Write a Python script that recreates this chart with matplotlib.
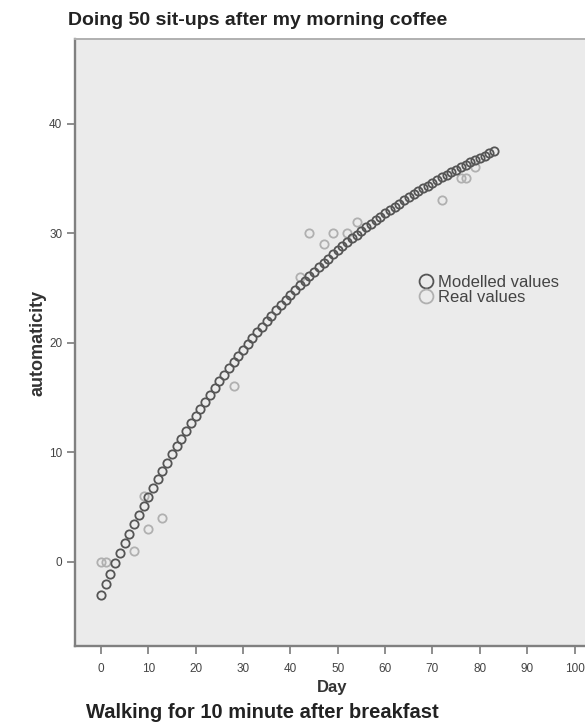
import numpy as np
import matplotlib.pyplot as plt
from matplotlib.lines import Line2D

plt.rcParams['font.family'] = ['Liberation Sans', 'DejaVu Sans']

# modelled automaticity, one point per day
model_day = np.arange(0, 84)
model_val = [-3.00, -2.03, -1.07, -0.13, 0.79, 1.69, 2.57, 3.44, 4.29, 5.13,
             5.94, 6.75, 7.53, 8.30, 9.06, 9.80, 10.53, 11.24, 11.94, 12.63,
             13.30, 13.96, 14.61, 15.24, 15.87, 16.48, 17.08, 17.66, 18.24, 18.80,
             19.36, 19.90, 20.43, 20.96, 21.47, 21.97, 22.46, 22.95, 23.42, 23.88,
             24.34, 24.79, 25.22, 25.65, 26.08, 26.49, 26.89, 27.29, 27.68, 28.06,
             28.44, 28.81, 29.17, 29.52, 29.87, 30.21, 30.54, 30.87, 31.19, 31.50,
             31.81, 32.12, 32.41, 32.70, 32.99, 33.27, 33.54, 33.81, 34.08, 34.33,
             34.59, 34.84, 35.08, 35.32, 35.56, 35.79, 36.01, 36.23, 36.45, 36.66,
             36.87, 37.08, 37.28, 37.48]

# real (measured) values
real_day = [0, 1, 7, 9, 10, 13, 28, 42, 44, 47, 49, 52, 54, 72, 76, 77, 79]
real_val = [0, 0, 1, 6, 3, 4, 16, 26, 30, 29, 30, 30, 31, 33, 35, 35, 36]

xticks = [0, 10, 20, 30, 40, 50, 60, 70, 80, 90, 100]
yticks = [0, 10, 20, 30, 40]

dark = '#555555'
light = '#b0b0b0'

fig = plt.figure(figsize=(5.85, 7.26), dpi=100)
ax = fig.add_axes([0.128, 0.110, 0.880, 0.836])
ax.set_facecolor('#ebebeb')

ax.plot(real_day, real_val, 'o', ms=6, mfc='none', mec=light, mew=1.3, zorder=2)
ax.plot(model_day, model_val, 'o', ms=6, mfc='none', mec=dark, mew=1.3, zorder=3)

ax.set_xlim(-5.5, 103.2)
ax.set_ylim(-7.7, 47.7)
ax.set_xticks(xticks)
ax.set_yticks(yticks)
ax.tick_params(direction='out', length=6, width=1.2, color='#7a7a7a',
               labelsize=8.5, labelcolor='#444444')
ax.tick_params(axis='x', pad=6)
ax.tick_params(axis='y', pad=3)

for s in ['left', 'bottom']:
    ax.spines[s].set_color('#808080')
    ax.spines[s].set_linewidth(1.7)
ax.spines['top'].set_color('#b0b0b0')
ax.spines['top'].set_linewidth(1.4)
ax.spines['right'].set_visible(False)

ax.set_xlabel('Day', fontsize=12, fontweight='bold', color='#333333', labelpad=4)
ax.set_ylabel('automaticity', fontsize=13, fontweight='bold', color='#333333', labelpad=2)

fig.text(0.116, 0.972, 'Doing 50 sit-ups after my morning coffee', fontsize=14,
         fontweight='bold', color='#222222', va='center', ha='left')
fig.text(0.147, 0.018, 'Walking for 10 minute after breakfast', fontsize=14.5,
         fontweight='bold', color='#222222', va='center', ha='left')

handles = [Line2D([], [], ls='none', marker='o', ms=10, mfc='none', mec=dark, mew=1.3),
           Line2D([], [], ls='none', marker='o', ms=10, mfc='none', mec=light, mew=1.3)]
fig.legend(handles, ['Modelled values', 'Real values'], loc='center left',
           bbox_to_anchor=(0.700, 0.601), frameon=False, fontsize=12,
           handlelength=1.0, handletextpad=0.2, labelspacing=0.0, borderpad=0,
           labelcolor='#444444')

fig.savefig('out.png', dpi=100)
